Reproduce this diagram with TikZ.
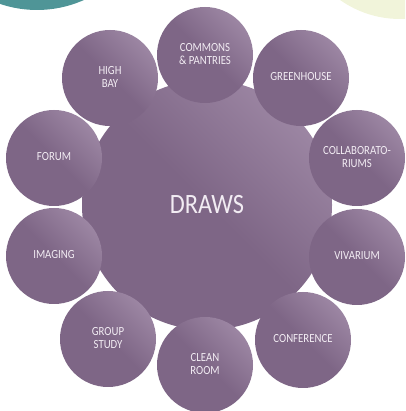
\documentclass[tikz,border=0pt]{standalone}
\usepackage{fontspec}
\setmainfont{Carlito}
\usepackage{graphicx}
\definecolor{pdark}{HTML}{7E6686}
\definecolor{plight}{HTML}{9C86A3}
\definecolor{ptext}{HTML}{F2ECF3}
\definecolor{tealc}{HTML}{4F9597}
\definecolor{yellowc}{HTML}{F1F4DA}
\pgfdeclareverticalshading{purp}{100bp}{color(0bp)=(pdark); color(25bp)=(pdark); color(50bp)=(pdark); color(75bp)=(plight); color(100bp)=(plight)}
\newcommand{\smalllbl}[1]{\scalebox{0.87}[1]{\fontsize{12.4}{13}\selectfont\begin{tabular}{@{}c@{}}#1\end{tabular}}}
\begin{document}
\begin{tikzpicture}[x=1pt,y=1pt,
  bubble/.style={circle, inner sep=0pt, minimum size=96pt, shading=purp, shading angle=-45, text=ptext, draw=none},
  hub/.style={circle, inner sep=0pt, minimum size=250pt, shading=purp, shading angle=-45, text=ptext, draw=none}]
\useasboundingbox (0,0) rectangle (405,411);
\clip (0,0) rectangle (405,411);
\fill[tealc] (37,516) circle (115);
\fill[yellowc] (400,496) circle (104);
\node[hub] (draws) at (207,206) {\scalebox{0.87}[1]{\fontsize{28}{30}\selectfont DRAWS}};
\node[bubble] (commons) at (205,356) {\smalllbl{COMMONS\\\& PANTRIES}};
\node[bubble] (greenhouse) at (301,333) {\smalllbl{GREENHOUSE}};
\node[bubble] (highbay) at (110,333) {\smalllbl{HIGH\\BAY}};
\node[bubble] (forum) at (54,253) {\smalllbl{FORUM}};
\node[bubble] (collab) at (357,253) {\smalllbl{COLLABORATO-\\RIUMS}};
\node[bubble] (imaging) at (54,155) {\smalllbl{IMAGING}};
\node[bubble] (vivarium) at (357,154) {\smalllbl{VIVARIUM}};
\node[bubble] (groupstudy) at (108,72) {\smalllbl{GROUP\\STUDY}};
\node[bubble] (conference) at (303,71) {\smalllbl{CONFERENCE}};
\node[bubble] (cleanroom) at (205,46) {\smalllbl{CLEAN\\ROOM}};
\end{tikzpicture}
\end{document}
